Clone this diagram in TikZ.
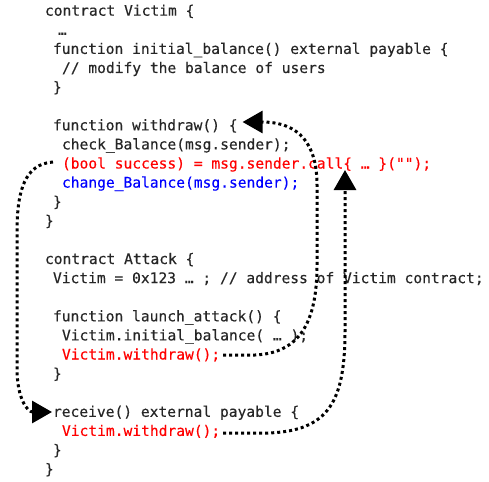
\documentclass[tikz,border=0pt]{standalone}
\usepackage{fontspec}
\setmonofont[FakeBold=0.35]{DejaVu Sans Mono}
\usetikzlibrary{arrows.meta}
\definecolor{codegray}{HTML}{262626}
\tikzset{
  code/.style={anchor=base west, inner sep=0pt, outer sep=0pt, font=\fontsize{14.6}{17}\ttfamily, text=codegray},
  hot/.style={code, text=red},
  cool/.style={code, text=blue},
  flow/.style={line width=3pt, dash pattern=on 3pt off 3pt, -{Triangle[length=20pt,width=22pt]}}
}
\begin{document}
\begin{tikzpicture}[x=1pt,y=-1pt]
\useasboundingbox (0,0) rectangle (489,481);
\newcommand{\by}[1]{15.7+19.1*#1}
\node[code] (l1) at (45,{\by{0}}) {contract Victim \{};
\node[code] (l2) at (58,{\by{1}}) {…};
\node[code] (l3) at (53,{\by{2}}) {function initial\_balance() external payable \{};
\node[code] (l4) at (62,{\by{3}}) {// modify the balance of users};
\node[code] (l5) at (53,{\by{4}}) {\}};
\node[code] (l6) at (53,{\by{6}}) {function withdraw() \{};
\node[code] (l7) at (62,{\by{7}}) {check\_Balance(msg.sender);};
\node[hot]  (l8) at (62,{\by{8}}) {(bool success) = msg.sender.call\{ … \}("");};
\node[cool] (l9) at (62,{\by{9}}) {change\_Balance(msg.sender);};
\node[code] (l10) at (53,{\by{10}}) {\}};
\node[code] (l11) at (45,{\by{11}}) {\}};
\node[code] (l12) at (45,{\by{13}}) {contract Attack \{};
\node[code] (l13) at (53,{\by{14}}) {Victim = 0x123 … ; // address of Victim contract;};
\node[code] (l14) at (53,{\by{16}}) {function launch\_attack() \{};
\node[code] (l15) at (62,{\by{17}}) {Victim.initial\_balance( … );};
\node[hot]  (l16) at (62,{\by{18}}) {Victim.withdraw();};
\node[code] (l17) at (53,{\by{19}}) {\}};
\node[code] (l18) at (53,{\by{21}}) {receive() external payable \{};
\node[hot]  (l19) at (62,{\by{22}}) {Victim.withdraw();};
\node[code] (l20) at (53,{\by{23}}) {\}};
\node[code] (l21) at (45,{\by{24}}) {\}};
\coordinate (callbrace) at (345,170);
% launch_attack withdraw -> withdraw()
\draw[flow] ([xshift=3pt]l16.east |- 0,355) -- (255,355)
  .. controls (300,353) and (317,322) .. (317,265) -- (317,185)
  .. controls (317,145) and (300,122) .. ([xshift=5pt]l6.east |- 0,122);
% receive withdraw -> call
\draw[flow] ([xshift=3pt]l19.east |- 0,433) -- (268,433)
  .. controls (330,431) and (345,400) .. (345,330) -- (callbrace);
% call -> receive
\draw[flow] ([xshift=-9pt]l8.west |- 0,162)
  .. controls (25,164) and (17,190) .. (17,232) -- (17,368)
  .. controls (17,400) and (28,412) .. ([xshift=-1pt]l18.west |- 0,412);
\end{tikzpicture}
\end{document}
